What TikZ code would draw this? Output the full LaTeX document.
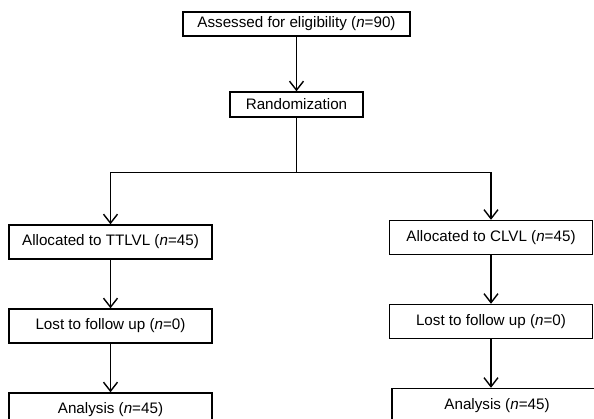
\documentclass[tikz,border=0pt]{standalone}
\usepackage{fontspec}
\setmainfont{Liberation Sans}
\usetikzlibrary{arrows.meta,positioning}

\begin{document}
\begin{tikzpicture}[%
        x=1pt, y=-1pt,
        >={Straight Barb[length=9pt,width=14pt]},
        node distance=84pt,
        on grid,
        line width=1.4pt,
        box/.style={draw, rectangle, minimum width=203pt, minimum height=34pt,
            inner sep=0pt, font=\fontsize{15.2}{18}\selectfont}
        ]
        \useasboundingbox (0,0) rectangle (594,419);
        \clip (0,0) rectangle (594,419);

        \node[box, minimum width=227pt, minimum height=24pt] (elig) at (296.5,24) {Assessed for eligibility (\textit{n}=90)};
        \node[box, minimum width=133pt, minimum height=25pt] (rand) at (296.5,104.5) {Randomization};
        \coordinate[below=55pt of rand.south] (split);

        \node[box] (alloc1) at (110.5,242) {Allocated to TTLVL (\textit{n}=45)};
        \node[box] (lost1) [below=of alloc1] {Lost to follow up (\textit{n}=0)};
        \node[box] (ana1) [below=of lost1] {Analysis (\textit{n}=45)};

        \node[box] (alloc2) at (491,237.5) {Allocated to CLVL (\textit{n}=45)};
        \node[box] (lost2) [below=of alloc2] {Lost to follow up (\textit{n}=0)};
        \node[box, minimum width=210pt] (ana2) [below=of lost2, xshift=6pt] {Analysis (\textit{n}=45)};

        \path[->] (elig) edge (rand);
        \draw (rand) -- (split);
        \draw[->] (split) -| (alloc1);
        \draw[->] (split) -| (alloc2);
        \path[->] (alloc1) edge (lost1);
        \path[->] (lost1) edge (ana1);
        \path[->] (alloc2) edge (lost2);
        \path[->] (lost2) edge (lost2 |- ana2.north);

    \end{tikzpicture}
\end{document}
